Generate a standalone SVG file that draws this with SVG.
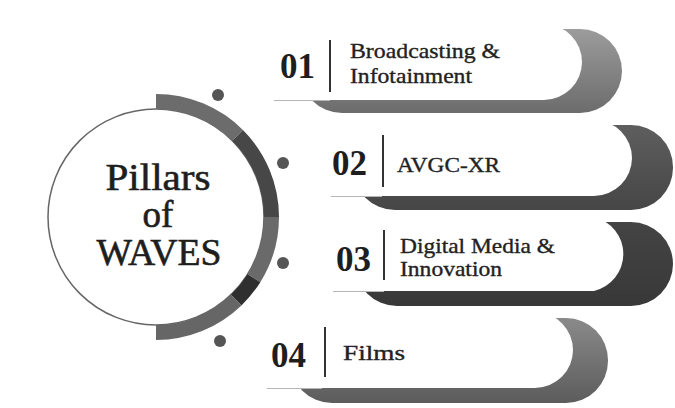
<svg xmlns="http://www.w3.org/2000/svg" width="675" height="408" viewBox="0 0 675 408">
<defs>
<style>
.num{font-family:"Liberation Serif","Times New Roman",serif;font-weight:bold;font-size:35px;fill:#1e1e1e}
.lbl{font-family:"Liberation Serif","Times New Roman",serif;font-size:21px;fill:#222;stroke:#222;stroke-width:0.35}
.title{font-family:"Liberation Serif","Times New Roman",serif;font-size:37px;fill:#1e1e1e;stroke:#1e1e1e;stroke-width:0.6;text-anchor:middle}
.sep{stroke:#333;stroke-width:2}
.pill{fill:#fff}
.shadow{stroke:#b5b5b5;stroke-width:1.2;fill:none}
.dot{fill:#555}
.seg{fill:none;stroke-width:15}
</style>
<linearGradient id="g1" x1="0" y1="0" x2="0" y2="1"><stop offset="0" stop-color="#9c9c9c"/><stop offset="1" stop-color="#6c6c6c"/></linearGradient>
<linearGradient id="g2" x1="0" y1="0" x2="0" y2="1"><stop offset="0" stop-color="#5e5e5e"/><stop offset="1" stop-color="#464646"/></linearGradient>
<linearGradient id="g3" x1="0" y1="0" x2="0" y2="1"><stop offset="0" stop-color="#444"/><stop offset="1" stop-color="#383838"/></linearGradient>
<linearGradient id="g4" x1="0" y1="0" x2="0" y2="1"><stop offset="0" stop-color="#8a8a8a"/><stop offset="1" stop-color="#5c5c5c"/></linearGradient>
</defs>
<rect width="675" height="408" fill="#fff"/>

<g id="center">
<circle cx="156" cy="217" r="108" fill="#fff" stroke="#666" stroke-width="1.5"/>
<path class="seg" stroke="#6c6c6c" d="M156,101.5 A115.5,115.5 0 0 1 237.67,135.33"/>
<path class="seg" stroke="#474747" d="M237.67,135.33 A115.5,115.5 0 0 1 271.5,217"/>
<path class="seg" stroke="#6a6a6a" d="M271.5,217 A115.5,115.5 0 0 1 253.95,278.2"/>
<path class="seg" stroke="#2f2f2f" d="M253.95,278.2 A115.5,115.5 0 0 1 236.24,300.08"/>
<path class="seg" stroke="#666" d="M236.24,300.08 A115.5,115.5 0 0 1 156,332.5"/>
<text class="title" x="158" y="190" textLength="105" lengthAdjust="spacingAndGlyphs">Pillars</text>
<text class="title" x="158" y="227">of</text>
<text class="title" x="159" y="265" textLength="125" lengthAdjust="spacingAndGlyphs">WAVES</text>
</g>

<g id="dots">
<circle class="dot" cx="218" cy="95" r="6"/>
<circle class="dot" cx="283" cy="163" r="6"/>
<circle class="dot" cx="283" cy="263" r="6"/>
<circle class="dot" cx="220" cy="341" r="6"/>
</g>

<g id="pillar-01">
<rect x="300" y="29" width="322" height="84" rx="42" fill="url(#g1)"/>
<path class="pill" d="M273,24 H544 A38,38 0 0 1 544,100 H273 Z"/>
<path class="shadow" d="M274,100.5 H330"/>
<text class="num" x="280" y="78">01</text>
<line class="sep" x1="330" y1="40" x2="330" y2="92"/>
<text class="lbl" x="350" y="58" textLength="150" lengthAdjust="spacingAndGlyphs">Broadcasting &amp;</text>
<text class="lbl" x="350" y="83" textLength="122" lengthAdjust="spacingAndGlyphs">Infotainment</text>
</g>

<g id="pillar-02">
<rect x="353" y="125" width="320" height="85" rx="42" fill="url(#g2)"/>
<path class="pill" d="M330,120 H594 A38,38 0 0 1 594,196 H330 Z"/>
<path class="shadow" d="M331,196.5 H382"/>
<text class="num" x="332" y="175">02</text>
<line class="sep" x1="383" y1="135" x2="383" y2="187"/>
<text class="lbl" x="397" y="172" textLength="103" lengthAdjust="spacingAndGlyphs">AVGC-XR</text>
</g>

<g id="pillar-03">
<rect x="355" y="222" width="318" height="84" rx="42" fill="url(#g3)"/>
<path class="pill" d="M332,217 H594 A38,38 0 0 1 594,291 H332 Z"/>
<path class="shadow" d="M333,291.5 H384"/>
<text class="num" x="336" y="271">03</text>
<line class="sep" x1="384" y1="230" x2="384" y2="280"/>
<text class="lbl" x="400" y="253" textLength="155" lengthAdjust="spacingAndGlyphs">Digital Media &amp;</text>
<text class="lbl" x="400" y="276" textLength="102" lengthAdjust="spacingAndGlyphs">Innovation</text>
</g>

<g id="pillar-04">
<rect x="290" y="318" width="318" height="85" rx="42" fill="url(#g4)"/>
<path class="pill" d="M266,312 H535 A38,38 0 0 1 535,388 H266 Z"/>
<path class="shadow" d="M267,388.5 H322"/>
<text class="num" x="271" y="367">04</text>
<line class="sep" x1="325" y1="327" x2="325" y2="377"/>
<text class="lbl" x="343" y="360" textLength="62" lengthAdjust="spacingAndGlyphs">Films</text>
</g>
</svg>
